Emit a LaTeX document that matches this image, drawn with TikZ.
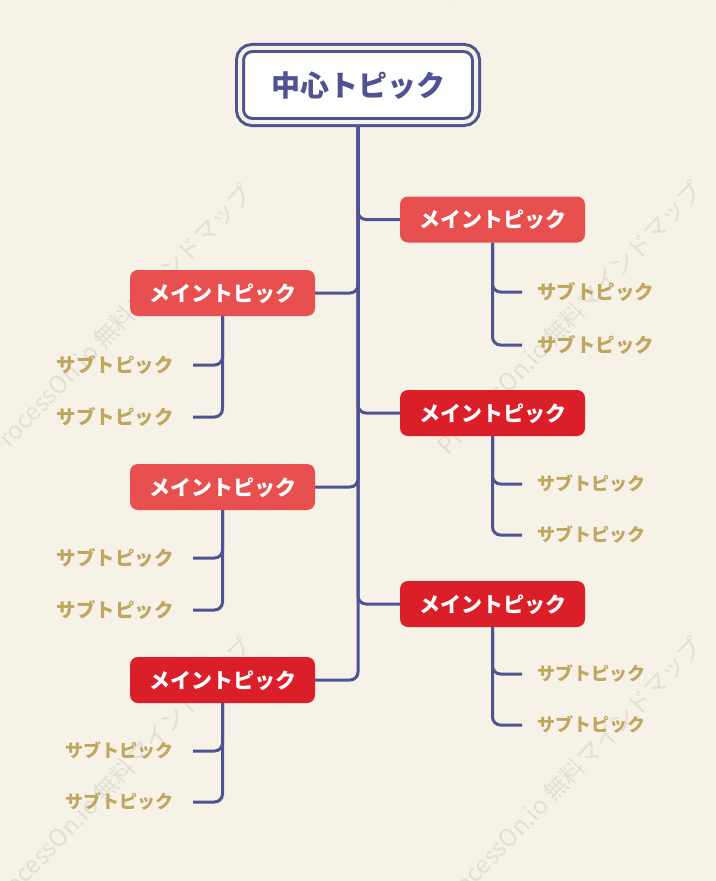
\documentclass[tikz,border=0pt]{standalone}
\usepackage{fontspec}
\setmainfont{Noto Sans CJK JP}
\usetikzlibrary{backgrounds}
\definecolor{bg}{HTML}{F6F2E7}
\definecolor{ln}{HTML}{4F5394}
\definecolor{redA}{HTML}{E85050}
\definecolor{redB}{HTML}{DA1F28}
\definecolor{subc}{HTML}{BFA760}
\definecolor{wm}{HTML}{E3DFD5}
\begin{document}
\begin{tikzpicture}[x=0.75pt,y=-0.75pt,
  conn/.style={draw=ln, line width=2.25pt, rounded corners=6pt},
  centerbox/.style={draw=ln, line width=2.25pt, double=bg, double distance=3pt, fill=white,
    rounded corners=9pt, minimum width=177pt, minimum height=55.5pt, inner sep=0pt, outer sep=0pt,
    text=ln, font=\bfseries\fontsize{21.75pt}{22pt}\selectfont, text height=19.1pt, text depth=2.6pt},
  mainbox/.style={rounded corners=6pt, minimum width=138.75pt, minimum height=34.5pt, inner sep=0pt,
    outer sep=0pt, text=white, font=\bfseries\fontsize{15.75pt}{16pt}\selectfont,
    text height=13.9pt, text depth=1.9pt},
  mainA/.style={mainbox, fill=redA},
  mainB/.style={mainbox, fill=redB},
  subtxt/.style={inner sep=0pt, text=subc, font=\bfseries\fontsize{14.6pt}{15pt}\selectfont,
    text height=12.85pt, text depth=1.75pt},
  subsmall/.style={inner sep=0pt, text=subc, font=\bfseries\fontsize{13.5pt}{14pt}\selectfont,
    text height=11.9pt, text depth=1.6pt},
  wmark/.style={rotate=46, text=wm, font=\fontsize{18pt}{18pt}\selectfont, inner sep=0pt}
]
\useasboundingbox (0,0) rectangle (716,881);

% nodes
\node[centerbox] (C) at (358,85) {中心トピック};
\node[mainA] (R1) at (492.5,219.5) {メイントピック};
\node[mainB] (R2) at (492.5,413) {メイントピック};
\node[mainB] (R3) at (492.5,604) {メイントピック};
\node[mainA] (L1) at (222.5,293) {メイントピック};
\node[mainA] (L2) at (222.5,487) {メイントピック};
\node[mainB] (L3) at (222.5,680) {メイントピック};

% subtopic line ends
\coordinate (r1a) at (522,292);
\coordinate (r1b) at (522,345);
\coordinate (r2a) at (522,484);
\coordinate (r2b) at (522,535);
\coordinate (r3a) at (522,674);
\coordinate (r3b) at (522,725);
\coordinate (l1a) at (193,365);
\coordinate (l1b) at (193,417);
\coordinate (l2a) at (193,558);
\coordinate (l2b) at (193,610);
\coordinate (l3a) at (193,751);
\coordinate (l3b) at (193,802);

% subtopic texts
\node[subtxt, anchor=west] (tr1a) at (537,292) {サブトピック};
\node[subtxt, anchor=west] (tr1b) at (537,345) {サブトピック};
\node[subsmall, anchor=west] (tr2a) at (537,484) {サブトピック};
\node[subsmall, anchor=west] (tr2b) at (537,535) {サブトピック};
\node[subsmall, anchor=west] (tr3a) at (537,674) {サブトピック};
\node[subsmall, anchor=west] (tr3b) at (537,725) {サブトピック};
\node[subtxt, anchor=east] (tl1a) at (174,365) {サブトピック};
\node[subtxt, anchor=east] (tl1b) at (174,417) {サブトピック};
\node[subtxt, anchor=east] (tl2a) at (174,558) {サブトピック};
\node[subtxt, anchor=east] (tl2b) at (174,610) {サブトピック};
\node[subsmall, anchor=east] (tl3a) at (174,751) {サブトピック};
\node[subsmall, anchor=east] (tl3b) at (174,802) {サブトピック};

\begin{scope}[on background layer]
  \fill[bg] (0,0) rectangle (716,881);
  \begin{scope}
    \clip (0,0) rectangle (716,881);
    \node[wmark] (w1) at (120,321) {ProcessOn.io 無料マインドマップ};
    \node[wmark] (w2) at (570,318) {ProcessOn.io 無料マインドマップ};
    \node[wmark] (w3) at (120,774) {ProcessOn.io 無料マインドマップ};
    \node[wmark] (w4) at (570,774) {ProcessOn.io 無料マインドマップ};
    \node[wmark] (w5) at (570,-135) {ProcessOn.io 無料マインドマップ};
  \end{scope}
  % trunk and branches
  \draw[conn] (C.south) |- (L3.east);
  \draw[conn] (C.south) |- (R1.west);
  \draw[conn] (C.south) |- (L1.east);
  \draw[conn] (C.south) |- (R2.west);
  \draw[conn] (C.south) |- (L2.east);
  \draw[conn] (C.south) |- (R3.west);
  % sub branches
  \draw[conn] (R1.south) |- (r1a);
  \draw[conn] (R1.south) |- (r1b);
  \draw[conn] (R2.south) |- (r2a);
  \draw[conn] (R2.south) |- (r2b);
  \draw[conn] (R3.south) |- (r3a);
  \draw[conn] (R3.south) |- (r3b);
  \draw[conn] (L1.south) |- (l1a);
  \draw[conn] (L1.south) |- (l1b);
  \draw[conn] (L2.south) |- (l2a);
  \draw[conn] (L2.south) |- (l2b);
  \draw[conn] (L3.south) |- (l3a);
  \draw[conn] (L3.south) |- (l3b);
\end{scope}
\end{tikzpicture}
\end{document}
